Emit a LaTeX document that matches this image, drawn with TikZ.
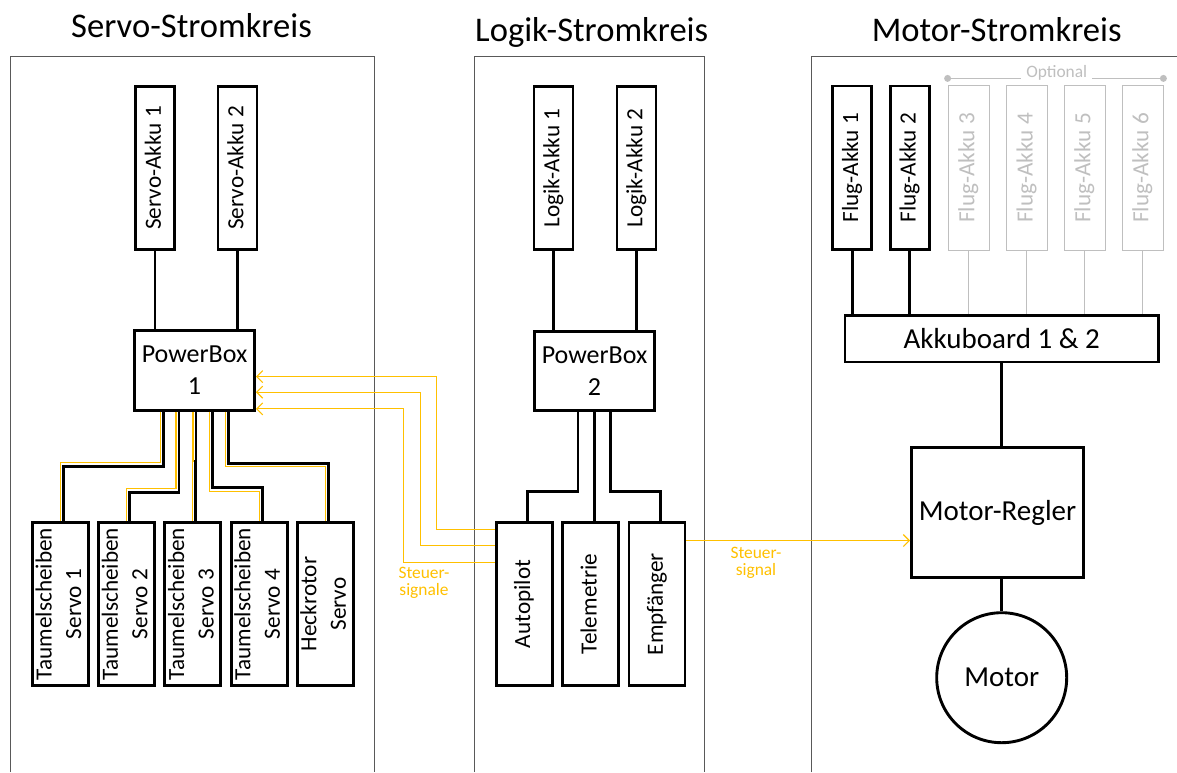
\documentclass[tikz,border=0pt]{standalone}
\usepackage{fontspec}
\setmainfont{Carlito}
\usepackage{graphicx}
\usetikzlibrary{positioning,arrows.meta}
\definecolor{sigcol}{HTML}{FFC000}
\definecolor{optgray}{HTML}{BFBFBF}
\newcommand{\ttlfont}{\fontsize{34.6}{40}\selectfont}
\newcommand{\pbfont}{\fontsize{26}{31.7}\selectfont}
\newcommand{\bgfont}{\fontsize{29}{35}\selectfont}
\newcommand{\vrtfont}{\fontsize{23.2}{29.5}\selectfont}
\newcommand{\sgfont}{\fontsize{17.4}{17.5}\selectfont}
\newcommand{\vtext}[1]{\rotatebox{90}{\begin{tabular}{@{}c@{}}#1\end{tabular}}}
\begin{document}
\begin{tikzpicture}[x=1pt,y=-1pt,line join=miter,
	box/.style={draw,line width=2.9pt,fill=white,inner sep=0pt},
	akku/.style={box,minimum width=39pt,minimum height=163.5pt,font=\vrtfont},
	servo/.style={box,inner xsep=-3pt,minimum width=56pt,minimum height=163.5pt,font=\vrtfont},
	opt/.style={draw=optgray,line width=0.8pt,text=optgray,inner sep=0pt,minimum width=41pt,minimum height=165pt,font=\vrtfont},
	pbox/.style={box,minimum width=120pt,minimum height=79.7pt,align=center,font=\pbfont},
	pwr/.style={line width=2.9pt},
	sig/.style={draw=sigcol,line width=1.1pt},
	sigarrow/.style={sig,-{Straight Barb[length=6pt,width=12pt]}},
	siglabel/.style={text=sigcol,align=center,font=\sgfont},
	frame/.style={draw=black!65,line width=0.9pt},
	title/.style={anchor=base,font=\ttlfont}]
	\useasboundingbox (0,0) rectangle (1177,772);
	% Rahmen
	\draw[frame] (10,772) -- (10,56.5) -- (374,56.5) -- (374,772);
	\draw[frame] (474.5,772) -- (474.5,56.5) -- (704.5,56.5) -- (704.5,772);
	\draw[frame] (811,772) -- (811,56.5) -- (1177,56.5);
	\node[title] (t1) at (191.5,37) {Servo-Stromkreis};
	\node[title] (t2) at (591.7,41) {Logik-Stromkreis};
	\node[title] (t3) at (996.7,41.5) {Motor-Stromkreis};
	% Servo-Stromkreis
	\node[akku] (sa1) at (155,168) {\vtext{Servo-Akku 1}};
	\node[akku] (sa2) at (237.5,168) {\vtext{Servo-Akku 2}};
	\node[pbox] (pb1) at (194.5,370.3) {PowerBox\\1};
	\node[servo] (s1) at (60.5,604) {\vtext{Taumelscheiben\\Servo 1}};
	\node[servo,right=7.3pt of s1] (s2) {\vtext{Taumelscheiben\\Servo 2}};
	\node[servo,right=7.3pt of s2] (s3) {\vtext{Taumelscheiben\\Servo 3}};
	\node[servo,right=7.3pt of s3] (s4) {\vtext{Taumelscheiben\\Servo 4}};
	\node[servo,right=7.3pt of s4] (s5) {\vtext{Heckrotor\\Servo}};
	\draw[pwr] (sa1.south) -- (sa1.south |- pb1.north);
	\draw[pwr] (sa2.south) -- (sa2.south |- pb1.north);
	\foreach \n/\dx/\hb/\hy in {1/-31.2/54.5/51, 2/-15.5/81/76.6, 3/1.5/50/50, 4/17.8/75.6/80, 5/34.2/51.6/55}{
		\draw[sig] ([xshift=\dx pt-3pt]pb1.south) -- ++(0,\hy) -| (s\n.north);
		\draw[pwr] ([xshift=\dx pt]pb1.south) -- ++(0,\hb) -| ([xshift=3pt]s\n.north);
	}
	% Logik-Stromkreis
	\node[akku] (la1) at (553.5,168) {\vtext{Logik-Akku 1}};
	\node[akku] (la2) at (636.5,168) {\vtext{Logik-Akku 2}};
	\node[pbox] (pb2) at (594.5,371) {PowerBox\\2};
	\node[servo] (ap) at (524.2,604) {\vtext{Autopilot}};
	\node[servo,right=7.5pt of ap] (tm) {\vtext{Telemetrie}};
	\node[servo,right=7.5pt of tm] (ep) {\vtext{Empfänger}};
	\draw[pwr] (la1.south) -- (la1.south |- pb2.north);
	\draw[pwr] (la2.south) -- (la2.south |- pb2.north);
	\foreach \n/\dx in {ap/-16.5,tm/-0.3,ep/16}
		\draw[pwr] ([xshift=\dx pt]pb2.south) -- ++(0,79.6) -| ([xshift=3.5pt]\n.north);
	% Steuersignale
	\draw[sigarrow] ([yshift=-8.3pt]ap.north west) -- ++(-58,0) |- ([yshift=35pt]pb1.south east);
	\draw[sigarrow] ([yshift=-24.7pt]ap.north west) -- ++(-74,0) |- ([yshift=19.4pt]pb1.south east);
	\draw[sigarrow] ([yshift=-41.3pt]ap.north west) -- ++(-91,0) |- ([yshift=2.7pt]pb1.south east);
	\node[siglabel] (l1) at (424,583) {Steuer-\\signale};
	% Motor-Stromkreis
	\node[akku] (fa1) at (852.2,167.7) {\vtext{Flug-Akku 1}};
	\node[akku] (fa2) at (909.7,167.7) {\vtext{Flug-Akku 2}};
	\foreach \i/\x in {3/968.5,4/1026.7,5/1084.5,6/1142.5}
		\node[opt] (fa\i) at (\x,168) {\vtext{Flug-Akku \i}};
	\node[box,minimum width=313.5pt,minimum height=46.5pt,font=\bgfont] (ab) at (1001.7,338.7) {Akkuboard 1 \& 2};
	\node[box,minimum width=172pt,minimum height=130pt,font=\bgfont] (mr) at (997.5,512.5) {Motor-Regler};
	\node[box,circle,minimum size=130pt,font=\bgfont] (mo) at (1001.7,677.7) {Motor};
	\draw[pwr] (fa1.south) -- (fa1.south |- ab.north);
	\draw[pwr] (fa2.south) -- (fa2.south |- ab.north);
	\foreach \i in {3,...,6}
		\draw[optgray,line width=0.8pt] (fa\i.south) -- (fa\i.south |- ab.north);
	\draw[pwr] (ab.south) -- (ab.south |- mr.north);
	\draw[pwr] (mr.south -| mo.north) -- (mo.north);
	\coordinate (o1) at ([yshift=6.7pt]fa3.north west);
	\coordinate (o2) at ([yshift=6.7pt]fa6.north east);
	\draw[optgray,line width=0.8pt] (o1) -- (o2);
	\fill[optgray] (o1) circle (3.5pt) (o2) circle (3.5pt);
	\node[fill=white,text=optgray,font=\sgfont,anchor=base,inner xsep=5pt,inner ysep=0pt] (opt) at (1056.7,77.5) {Optional};
	\draw[sigarrow] ([yshift=-19.7pt]ep.north east) coordinate (e1) -- (e1 -| mr.west);
	\node[siglabel] (l2) at (756,563) {Steuer-\\signal};
\end{tikzpicture}
\end{document}
